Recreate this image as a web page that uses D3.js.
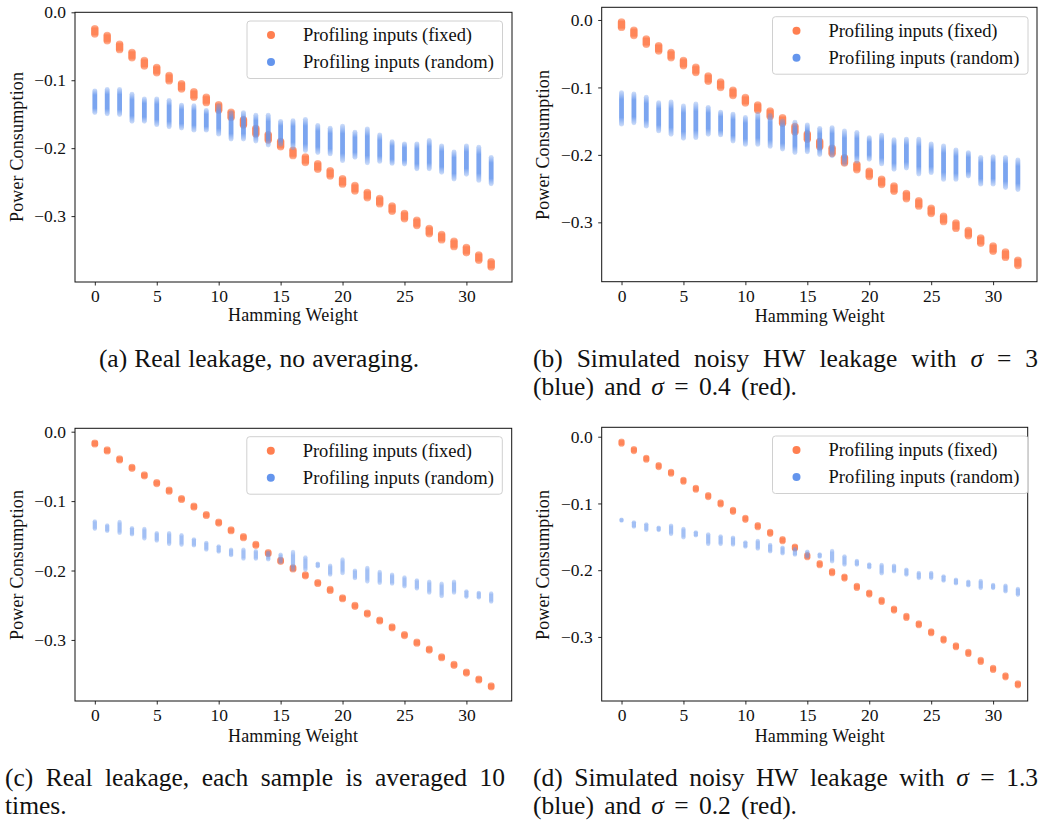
<!DOCTYPE html>
<html>
<head>
<meta charset="utf-8">
<script src="https://cdn.jsdelivr.net/npm/d3@7"></script>
<style>
body { margin: 0; background: #fff; }
svg { display: block; }
text { font-family: "Liberation Serif", "DejaVu Serif", "Times New Roman", serif; fill: #111; }
</style>
</head>
<body>
<div id="chart"></div>
<script>
var w = 1043, h = 823;
var serif = '"Liberation Serif", "DejaVu Serif", serif';

// hamming weights (categories on x)
var hw = [0,1,2,3,4,5,6,7,8,9,10,11,12,13,14,15,16,17,18,19,20,21,22,23,24,25,26,27,28,29,30,31,32];
var xTicks = [0,5,10,15,20,25,30];
var yTicks = [-0.3,-0.2,-0.1,0.0];
var legendLabels = ["Profiling inputs (fixed)", "Profiling inputs (random)"];

// (a) real leakage, no averaging
var fixedA = [-0.028,-0.038,-0.051,-0.063,-0.075,-0.085,-0.097,-0.109,-0.121,-0.129,-0.140,-0.151,-0.162,-0.175,-0.184,-0.194,-0.207,-0.217,-0.227,-0.237,-0.249,-0.259,-0.269,-0.278,-0.289,-0.300,-0.310,-0.322,-0.331,-0.341,-0.350,-0.361,-0.371];
var randTopA = [-0.112,-0.110,-0.110,-0.117,-0.124,-0.124,-0.126,-0.133,-0.134,-0.141,-0.134,-0.144,-0.144,-0.148,-0.148,-0.157,-0.156,-0.154,-0.163,-0.167,-0.164,-0.173,-0.168,-0.177,-0.187,-0.190,-0.190,-0.185,-0.193,-0.202,-0.193,-0.195,-0.210];
var randBotA = [-0.151,-0.153,-0.154,-0.164,-0.164,-0.169,-0.172,-0.174,-0.177,-0.177,-0.183,-0.190,-0.190,-0.193,-0.199,-0.198,-0.203,-0.207,-0.210,-0.212,-0.222,-0.217,-0.225,-0.223,-0.226,-0.227,-0.234,-0.234,-0.239,-0.249,-0.242,-0.251,-0.256];

// (b) simulated, sigma 3 / 0.4
var fixedB = [-0.007,-0.019,-0.032,-0.042,-0.052,-0.064,-0.074,-0.087,-0.096,-0.108,-0.119,-0.130,-0.139,-0.149,-0.162,-0.173,-0.184,-0.194,-0.208,-0.218,-0.228,-0.240,-0.250,-0.261,-0.272,-0.283,-0.295,-0.305,-0.316,-0.327,-0.339,-0.348,-0.360];
var randTopB = [-0.104,-0.106,-0.111,-0.119,-0.118,-0.124,-0.121,-0.126,-0.133,-0.136,-0.141,-0.136,-0.138,-0.146,-0.148,-0.152,-0.157,-0.156,-0.161,-0.163,-0.171,-0.167,-0.174,-0.173,-0.173,-0.180,-0.183,-0.189,-0.193,-0.200,-0.199,-0.200,-0.204];
var randBotB = [-0.158,-0.156,-0.161,-0.168,-0.173,-0.179,-0.178,-0.173,-0.174,-0.183,-0.188,-0.188,-0.191,-0.195,-0.200,-0.199,-0.203,-0.205,-0.217,-0.213,-0.210,-0.217,-0.225,-0.223,-0.232,-0.230,-0.240,-0.240,-0.235,-0.247,-0.247,-0.252,-0.255];

// (c) real leakage, averaged 10 times
var fixedC = [-0.017,-0.027,-0.040,-0.052,-0.063,-0.074,-0.085,-0.097,-0.108,-0.120,-0.131,-0.142,-0.152,-0.163,-0.175,-0.186,-0.197,-0.207,-0.218,-0.228,-0.240,-0.251,-0.262,-0.272,-0.282,-0.293,-0.304,-0.314,-0.325,-0.336,-0.347,-0.357,-0.367];
var randTopC = [-0.126,-0.132,-0.127,-0.136,-0.137,-0.143,-0.143,-0.146,-0.152,-0.157,-0.162,-0.167,-0.167,-0.169,-0.171,-0.174,-0.170,-0.178,-0.187,-0.190,-0.181,-0.197,-0.193,-0.199,-0.203,-0.207,-0.211,-0.213,-0.216,-0.213,-0.227,-0.229,-0.230];
var randBotC = [-0.143,-0.146,-0.149,-0.151,-0.157,-0.160,-0.165,-0.166,-0.167,-0.173,-0.176,-0.181,-0.186,-0.186,-0.187,-0.191,-0.202,-0.202,-0.197,-0.209,-0.207,-0.214,-0.219,-0.221,-0.222,-0.226,-0.229,-0.235,-0.240,-0.235,-0.241,-0.242,-0.248];

// (d) simulated, sigma 1.3 / 0.2
var fixedD = [-0.009,-0.020,-0.033,-0.044,-0.054,-0.066,-0.078,-0.089,-0.100,-0.111,-0.123,-0.134,-0.144,-0.155,-0.166,-0.179,-0.191,-0.203,-0.211,-0.225,-0.235,-0.246,-0.259,-0.270,-0.281,-0.293,-0.304,-0.314,-0.324,-0.336,-0.348,-0.359,-0.371];
var randTopD = [-0.121,-0.125,-0.128,-0.133,-0.130,-0.135,-0.140,-0.143,-0.146,-0.148,-0.155,-0.153,-0.159,-0.163,-0.165,-0.169,-0.173,-0.168,-0.176,-0.183,-0.188,-0.189,-0.190,-0.196,-0.201,-0.201,-0.206,-0.211,-0.214,-0.213,-0.219,-0.220,-0.225];
var randBotD = [-0.129,-0.138,-0.143,-0.143,-0.149,-0.154,-0.151,-0.164,-0.164,-0.165,-0.168,-0.171,-0.175,-0.178,-0.180,-0.183,-0.183,-0.190,-0.195,-0.195,-0.199,-0.208,-0.205,-0.210,-0.215,-0.215,-0.219,-0.223,-0.226,-0.230,-0.230,-0.235,-0.240];

// half spread of the fixed clusters, per panel
var fixedSpread = [0.004, 0.004, 0.001, 0.0015];
var yDomains = [[-0.397, 0.0], [-0.388, 0.0188], [-0.388, 0.0049], [-0.396, 0.0141]];

var coral = "#ff7f50", blue = "#6495ed";

var svg = d3.select("#chart").append("svg")
  .attr("width", w)
  .attr("height", h);

// pick a font size so that a sample string has the width seen in the picture
function fitSize(str, target) {
  var t = svg.append("text").style("font-family", serif).style("font-size", "100px").text(str);
  var len = t.node().getComputedTextLength();
  t.remove();
  return target / len * 100;
}
var tickSize = Math.min(17.5, fitSize("30", 17.7));
var labelSize = Math.min(18, fitSize("Hamming Weight", 130));
var legendSize = Math.min(18.5, fitSize("Profiling inputs (random)", 191));
var capSize = Math.min(25.5, fitSize("(a) Real leakage, no averaging.", 328));

var defs = svg.append("defs");
function grad(id, color, lo, hi) {
  var g = defs.append("linearGradient").attr("id", id)
    .attr("x1", 0).attr("y1", 0).attr("x2", 0).attr("y2", 1);
  [[0, lo], [0.25, hi], [0.75, hi], [1, lo]].forEach(function(s) {
    g.append("stop").attr("offset", s[0]).attr("stop-color", color).attr("stop-opacity", s[1]);
  });
}
grad("blueDense", blue, 0.3, 0.85);
grad("blueSparse", blue, 0.3, 0.6);
grad("coralDense", coral, 0.55, 0.95);

// layout of the 4 panels
var panels = [
  {fixed: fixedA, top: randTopA, bot: randBotA, k: 0, x0: 75, x1: 512, y0: 12.3, y1: 282, rF: 3.7, rR: 2.4, blueFill: "blueDense",
   legX: 502.5, legY: 21, yLabX: 22.5, yLabY: 147, xLabY: 321},
  {fixed: fixedB, top: randTopB, bot: randBotB, k: 1, x0: 601.7, x1: 1037, y0: 7.3, y1: 281.7, rF: 3.7, rR: 2.4, blueFill: "blueDense",
   legX: 1028, legY: 16.7, yLabX: 548.5, yLabY: 145, xLabY: 322},
  {fixed: fixedC, top: randTopC, bot: randBotC, k: 2, x0: 75, x1: 511.7, y0: 428.3, y1: 701, rF: 3.4, rR: 2.1, blueFill: "blueSparse",
   legX: 502.3, legY: 436.7, yLabX: 22.5, yLabY: 565, xLabY: 742},
  {fixed: fixedD, top: randTopD, bot: randBotD, k: 3, x0: 601.7, x1: 1027.7, y0: 427.3, y1: 701, rF: 3.1, rR: 2.1, blueFill: "blueSparse",
   legX: 1028, legY: 436, yLabX: 548.5, yLabY: 565, xLabY: 742}
];

panels.forEach(function(p, i) {
  var x = d3.scaleLinear().domain([-1.6, 33.6]).range([p.x0, p.x0 + 436]);
  var y = d3.scaleLinear().domain(yDomains[p.k]).range([p.y1, p.y0]);
  var sp = fixedSpread[p.k];
  var g = svg.append("g");

  defs.append("clipPath").attr("id", "clip" + i)
    .append("rect").attr("x", p.x0).attr("y", p.y0)
    .attr("width", p.x1 - p.x0).attr("height", p.y1 - p.y0);
  var plot = g.append("g").attr("clip-path", "url(#clip" + i + ")");

  // fixed inputs
  plot.selectAll(".fx").data(hw).enter().append("rect")
    .attr("x", function(d) { return x(d) - p.rF; })
    .attr("y", function(d) { return y(p.fixed[d] + sp) - p.rF; })
    .attr("width", p.rF * 2)
    .attr("height", function(d) { return y(p.fixed[d] - sp) - y(p.fixed[d] + sp) + p.rF * 2; })
    .attr("rx", p.rF)
    .style("fill", "url(#coralDense)");

  // random inputs
  plot.selectAll(".rd").data(hw).enter().append("rect")
    .attr("x", function(d) { return x(d) - p.rR; })
    .attr("y", function(d) { return y(p.top[d]); })
    .attr("width", p.rR * 2)
    .attr("height", function(d) { return Math.max(p.rR * 2, y(p.bot[d]) - y(p.top[d])); })
    .attr("rx", p.rR)
    .style("fill", "url(#" + p.blueFill + ")");

  // axes
  var xa = g.append("g").attr("transform", "translate(0," + p.y1 + ")")
    .call(d3.axisBottom(x).tickValues(xTicks).tickSize(3.5).tickPadding(4.5).tickFormat(d3.format("d")));
  var ya = g.append("g").attr("transform", "translate(" + p.x0 + ",0)")
    .call(d3.axisLeft(y).tickValues(yTicks).tickSize(3.5).tickPadding(5.5).tickFormat(d3.format(".1f")));
  [xa, ya].forEach(function(a) {
    a.attr("font-family", null).attr("font-size", null);
    a.select(".domain").remove();
    a.selectAll("line").style("stroke", "#111").style("stroke-width", 0.9);
    a.selectAll("text").style("font-family", serif).style("font-size", tickSize + "px").style("fill", "#111");
  });

  g.append("rect")
    .attr("x", p.x0).attr("y", p.y0)
    .attr("width", p.x1 - p.x0).attr("height", p.y1 - p.y0)
    .style("fill", "none").style("stroke", "#111").style("stroke-width", 1);

  g.append("text")
    .attr("x", (p.x0 + 436 / 2))
    .attr("y", p.xLabY)
    .attr("text-anchor", "middle")
    .attr("textLength", 130)
    .style("font-size", labelSize + "px")
    .text("Hamming Weight");

  g.append("text")
    .attr("transform", "translate(" + p.yLabX + "," + p.yLabY + ") rotate(-90)")
    .attr("text-anchor", "middle")
    .attr("textLength", 150)
    .style("font-size", labelSize + "px")
    .text("Power Consumption");

  // legend
  var lw = 255.5, lh = 57.5;
  var leg = g.append("g").attr("transform", "translate(" + (p.legX - lw) + "," + p.legY + ")");
  leg.append("rect")
    .attr("width", lw).attr("height", lh).attr("rx", 3)
    .style("fill", "#fff").style("fill-opacity", 0.8)
    .style("stroke", "#d0d0d0").style("stroke-width", 1);
  leg.selectAll("circle").data(legendLabels).enter().append("circle")
    .attr("cx", 24)
    .attr("cy", function(d, j) { return 14 + j * 27; })
    .attr("r", 4)
    .style("fill", function(d, j) { return j == 0 ? coral : blue; });
  leg.selectAll("text").data(legendLabels).enter().append("text")
    .attr("x", 56)
    .attr("y", function(d, j) { return 14 + j * 27; })
    .attr("dy", "0.33em")
    .attr("textLength", function(d, j) { return j == 0 ? 169 : 191; })
    .style("font-size", legendSize + "px")
    .text(function(d) { return d; });
});

// captions: justified word by word like the LaTeX source ("center" keeps natural spacing)
function capLine(words, x0, x1, yb, mode) {
  var t = svg.append("g").selectAll("text").data(words).enter().append("text")
    .attr("y", yb)
    .style("font-size", capSize + "px")
    .style("font-style", function(d) { return d == "σ" ? "italic" : null; })
    .text(function(d) { return d; });
  var widths = t.nodes().map(function(n) { return n.getComputedTextLength(); });
  var gap = capSize * 0.28;
  var total = d3.sum(widths) + gap * (words.length - 1);
  var cx = x0;
  if (mode == "justify" && words.length > 1) gap = Math.max(2, (x1 - x0 - d3.sum(widths)) / (words.length - 1));
  if (mode == "center") cx = (x0 + x1) / 2 - total / 2;
  t.attr("x", function(d, j) { var px = cx; cx += widths[j] + gap; return px; });
}

capLine(["(a)", "Real", "leakage,", "no", "averaging."], 95, 423, 367, "center");
capLine(["(b)", "Simulated", "noisy", "HW", "leakage", "with", "σ", "=", "3"], 533, 1038, 367, "justify");
capLine(["(blue)", "and", "σ", "=", "0.4", "(red)."], 533, 797, 394.5, "justify");
capLine(["(c)", "Real", "leakage,", "each", "sample", "is", "averaged", "10"], 5, 505, 786, "justify");
capLine(["times."], 5, 505, 813.5, "left");
capLine(["(d)", "Simulated", "noisy", "HW", "leakage", "with", "σ", "=", "1.3"], 533, 1038, 786, "justify");
capLine(["(blue)", "and", "σ", "=", "0.2", "(red)."], 533, 797, 813.5, "justify");
</script>
</body>
</html>
